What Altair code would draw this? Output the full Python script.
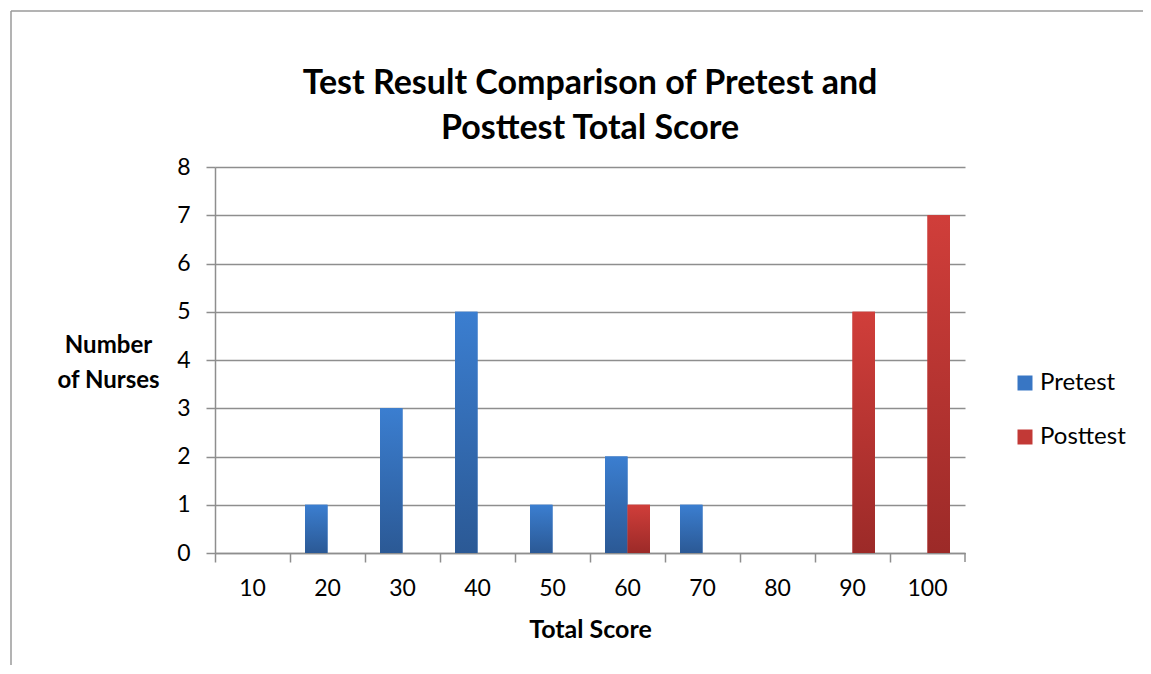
import altair as alt
import pandas as pd

categories = [10, 20, 30, 40, 50, 60, 70, 80, 90, 100]
pretest = [0, 1, 3, 5, 1, 2, 1, 0, 0, 0]
posttest = [0, 0, 0, 0, 0, 1, 0, 0, 5, 7]
series = ["Pretest", "Posttest"]
y_ticks = [0, 1, 2, 3, 4, 5, 6, 7, 8]

rows = []
for c, a, b in zip(categories, pretest, posttest):
    rows.append({"score": c, "series": "Pretest", "count": a})
    rows.append({"score": c, "series": "Posttest", "count": b})
df = pd.DataFrame(rows)

FONT = "Lato"
GRID = "#8e8e8e"

def grad(top, bottom):
    return {
        "gradient": "linear", "x1": 0, "y1": 0, "x2": 0, "y2": 1,
        "stops": [{"offset": 0, "color": top}, {"offset": 1, "color": bottom}],
    }

x_enc = alt.X(
    "score:O",
    sort=categories,
    scale=alt.Scale(domain=categories, paddingInner=0, paddingOuter=0),
    axis=alt.Axis(
        title="Total Score", labelAngle=0, bandPosition=0, grid=False,
        tickSize=9, tickColor=GRID, tickWidth=1.5, domainColor=GRID, domainWidth=1.5,
        labelFontSize=23, labelPadding=15, labelFont=FONT, labelColor="black",
        titleFontSize=25, titleFont=FONT, titleFontWeight="bold", titleColor="black",
        titlePadding=17,
    ),
)
xo_enc = alt.XOffset("series:N", sort=series,
                     scale=alt.Scale(domain=series, paddingInner=0, paddingOuter=0.6667))
y_enc = alt.Y(
    "count:Q",
    scale=alt.Scale(domain=[0, 8], nice=False),
    axis=alt.Axis(
        values=y_ticks, title=["Number", "of Nurses"], titleAngle=0,
        titleAlign="center", titleBaseline="middle", titleX=-107, titleY=178,
        titleFontSize=24, titleFont=FONT, titleFontWeight="bold", titleColor="black",
        titleLineHeight=35,
        tickSize=9, tickColor=GRID, tickWidth=1.5, domainColor=GRID, domainWidth=1.5,
        gridColor=GRID, gridWidth=1.5,
        labelFontSize=23, labelPadding=16, labelFont=FONT, labelColor="black",
    ),
)

base = alt.Chart(df).transform_filter(alt.datum.count > 0)

legend_layer = base.mark_bar().encode(
    x=x_enc, xOffset=xo_enc, y=y_enc,
    color=alt.Color(
        "series:N", sort=series,
        scale=alt.Scale(domain=series, range=["#3876c4", "#c23936"]),
        legend=alt.Legend(
            title=None, orient="none", legendX=798, legendY=204,
            symbolType="square", symbolSize=225, symbolStrokeWidth=0,
            labelFontSize=24, labelFont=FONT, labelColor="black",
            rowPadding=30, labelOffset=3,
        ),
    ),
)

pre_layer = base.transform_filter(alt.datum.series == "Pretest").mark_bar().encode(
    x=x_enc, xOffset=xo_enc, y=y_enc,
    color=alt.value(grad("#3b7ed0", "#2b5995")),
)
post_layer = base.transform_filter(alt.datum.series == "Posttest").mark_bar().encode(
    x=x_enc, xOffset=xo_enc, y=y_enc,
    color=alt.value(grad("#d03e3a", "#9c2a28")),
)

one = pd.DataFrame({"k": [0]})
end_tick = alt.Chart(one).mark_rule(color=GRID, strokeWidth=1.5).encode(
    x=alt.value(750), y=alt.value(386), y2=alt.value(395)
)
border = alt.Chart(one).mark_rule(color="#9a9a9a", strokeWidth=1.5).encode(
    x=alt.value(-204), y=alt.value(-156), y2=alt.value(540)
)
border_top = alt.Chart(one).mark_rule(color="#9a9a9a", strokeWidth=1.5).encode(
    x=alt.value(-204), x2=alt.value(960), y=alt.value(-156)
)

chart = alt.layer(legend_layer, pre_layer, post_layer, end_tick, border, border_top).properties(
    width=750, height=386,
    autosize=alt.AutoSizeParams(type="none"),
    padding={"left": 207, "top": 159, "right": 178, "bottom": 112},
    title=alt.TitleParams(
        ["Test Result Comparison of Pretest and", "Posttest Total Score"],
        fontSize=34, font=FONT, fontWeight="bold", color="black",
        anchor="middle", frame="group", lineHeight=45, offset=24, dy=160,
    ),
).configure_view(stroke=None).configure_axis(gridDash=[])

chart.save("out.html", embed_options={"renderer": "svg", "actions": False})
